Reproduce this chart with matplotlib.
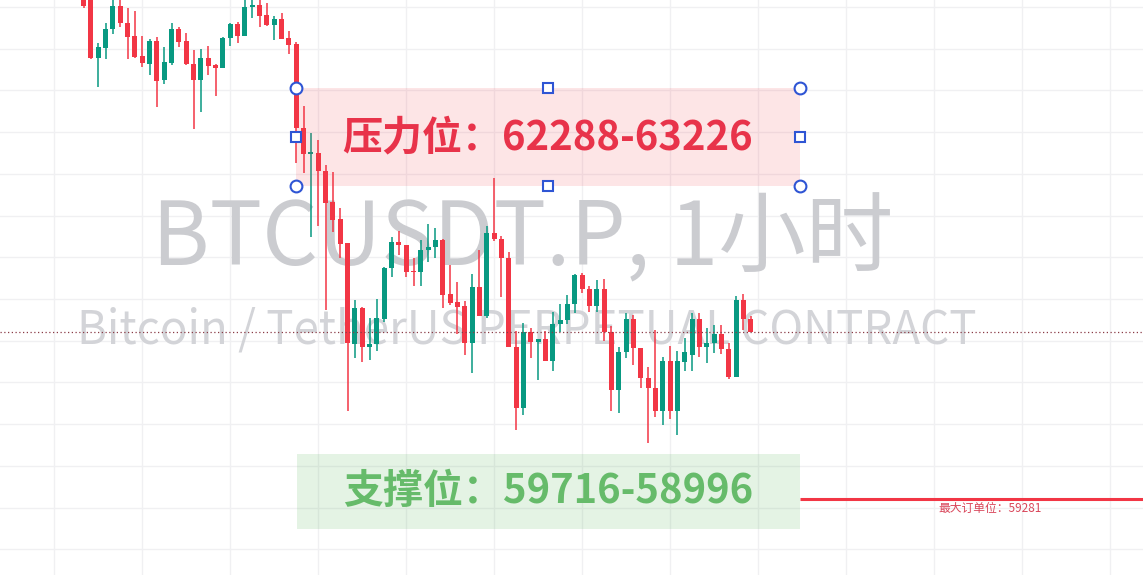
import numpy as np
import matplotlib
matplotlib.use("Agg")
import matplotlib.pyplot as plt
from matplotlib.patches import Rectangle

# hourly candles, BTCUSDT.P (open, high, low, close)
opens = [64115, 64096, 63511, 63607, 63789, 64009, 63846, 63722, 63530, 63453,
         63674, 63300, 63463, 63789, 63674, 63453, 63300, 63511, 63444, 63415,
         63703, 63837, 63722, 64000, 64019, 63923, 63827, 63885, 63703, 63645,
         62839, 62590, 62600, 62427, 62130, 61967, 61737, 60768, 61113, 60739,
         60768, 61007, 61497, 61746, 61717, 61468, 61459, 61670, 61698, 61765,
         61248, 61171, 61132, 60778, 61315, 61036, 61833, 61775, 61593, 60739,
         60154, 60883, 60787, 60816, 60605, 60960, 60998, 61152, 61430, 61296,
         61132, 61296, 60883, 60327, 60691, 61007, 60730, 60442, 60346, 60126,
         60605, 60126, 60595, 60662, 61007, 60739, 60778, 60864, 60720, 60452,
         61190, 61007]
highs = [64163, 64115, 63655, 63846, 64067, 64086, 63990, 63962, 63722, 63693,
         63712, 63616, 63846, 63808, 63751, 63588, 63597, 63626, 63453, 63712,
         63846, 63856, 64086, 64067, 64067, 64038, 63914, 63942, 63770, 63664,
         63050, 62792, 62724, 62485, 62418, 62072, 61737, 61190, 61123, 61017,
         61200, 61507, 61794, 61852, 61717, 61593, 61765, 61919, 61880, 61775,
         61526, 61363, 61181, 61439, 61670, 61900, 62360, 61804, 61650, 60893,
         60969, 60922, 60816, 60893, 61075, 61152, 61238, 61439, 61449, 61324,
         61382, 61391, 60941, 60739, 61065, 61046, 60730, 60547, 60902, 60643,
         60749, 60701, 60826, 61065, 61065, 60922, 60950, 60950, 60778, 61228,
         61248, 61036]
lows = [63990, 63501, 63233, 63501, 63741, 63808, 63501, 63511, 63424, 63348,
        63041, 63261, 63444, 63616, 63444, 62830, 62993, 63348, 63146, 63415,
        63626, 63655, 63722, 63894, 63808, 63818, 63683, 63693, 63549, 62504,
        62408, 61794, 61900, 61094, 61842, 61593, 60126, 60634, 60595, 60614,
        60701, 60979, 61411, 61622, 61411, 61324, 61324, 61555, 61593, 61113,
        61142, 60864, 60662, 60490, 61036, 61017, 61756, 61219, 60739, 59943,
        60087, 60634, 60423, 60605, 60509, 60883, 60960, 61065, 61257, 61075,
        61075, 60797, 60126, 60106, 60634, 60567, 60346, 59819, 60068, 59991,
        60049, 59895, 60509, 60509, 60643, 60586, 60682, 60672, 60432, 60452,
        60902, 60883]
closes = [64009, 63511, 63616, 63789, 64009, 63846, 63712, 63520, 63463, 63674,
          63290, 63472, 63789, 63664, 63453, 63300, 63511, 63434, 63415, 63703,
          63837, 63722, 64000, 64019, 63914, 63827, 63885, 63693, 63635, 62839,
          62590, 62609, 62427, 62120, 61957, 61727, 60778, 61113, 60739, 60768,
          61017, 61497, 61746, 61717, 61459, 61459, 61670, 61698, 61765, 61238,
          61161, 61123, 60778, 61315, 61036, 61833, 61775, 61593, 60739, 60154,
          60883, 60787, 60816, 60605, 60960, 60998, 61152, 61430, 61296, 61132,
          61296, 60883, 60327, 60691, 61007, 60730, 60442, 60346, 60126, 60605,
          60126, 60605, 60691, 61007, 60739, 60778, 60864, 60720, 60452, 61190,
          61007, 60883]

resist_lo, resist_hi = 62288, 63226
support_lo, support_hi = 58996, 59716
max_order = 59281
last_price = closes[-1]

title_main = "BTCUSDT.P, 1小时"
title_sub = "Bitcoin / TetherUS PERPETUAL CONTRACT"
resist_label = "压力位：62288-63226"
support_label = "支撑位：59716-58996"
max_order_label = "最大订单位：59281"

UP = "#089981"
DOWN = "#F23645"

fig = plt.figure(figsize=(11.43, 5.75), dpi=100)
ax = fig.add_axes([0, 0, 1, 1])
ax.set_xlim(-11.4, 144.5)
ax.set_ylim(58553, 64067)
for s in ax.spines.values():
    s.set_visible(False)
ax.set_xticks(np.arange(-4, 145, 12))
ax.set_yticks(np.arange(58800, 64100, 400))
ax.tick_params(length=0, labelbottom=False, labelleft=False)
ax.grid(True, color="#f0f0f2", lw=1)
ax.set_axisbelow(True)

cjk = ["Noto Sans CJK SC", "DejaVu Sans"]

# watermark
ax.text(0.457, 1 - 265 / 575, title_main, transform=ax.transAxes, ha="center",
        va="baseline", fontsize=63, color="#cbccd0", family=cjk, zorder=1)
ax.text(0.4605, 1 - 343 / 575, title_sub, transform=ax.transAxes, ha="center",
        va="baseline", fontsize=32.8, color="#d3d4d8", family=cjk, zorder=1)

# candles
x = np.arange(len(opens))
o = np.array(opens); h = np.array(highs); l = np.array(lows); c = np.array(closes)
col = np.where(c >= o, UP, DOWN)
body = np.maximum(np.abs(c - o), 10)
ax.vlines(x, l, h, colors=col, lw=1.1, zorder=2)
ax.bar(x, body, bottom=np.minimum(o, c), width=0.68, color=col, zorder=2)

# last price line
ax.axhline(last_price, color="#8a3b46", lw=0.9, ls=(0, (1, 2)), zorder=2)

# resistance zone
x0, x1 = 28.97, 97.7
ax.add_patch(Rectangle((x0, resist_lo), x1 - x0, resist_hi - resist_lo,
                       facecolor=DOWN, alpha=0.13, lw=0, zorder=3))
ym = (resist_lo + resist_hi) / 2
xm = (x0 + x1) / 2
ax.text(xm, ym - 15, resist_label, ha="center", va="center", fontsize=28.8,
        fontweight="bold", color="#e8334a", family=cjk, zorder=4)
ax.plot([x0, x1, x0, x1], [resist_hi, resist_hi, resist_lo, resist_lo], "o", ms=8.5,
        mfc="white", mec="#2f55d4", mew=1.5, zorder=5)
ax.plot([xm, x0, x1, xm], [resist_hi, ym, ym, resist_lo], "s", ms=7.5,
        mfc="white", mec="#2f55d4", mew=1.5, zorder=5)

# support zone
ax.add_patch(Rectangle((x0 + 0.1, support_lo), x1 - x0 - 0.1, support_hi - support_lo,
                       facecolor="#4caf50", alpha=0.15, lw=0, zorder=3))
ax.text(xm, (support_lo + support_hi) / 2, support_label, ha="center", va="center",
        fontsize=28.8, fontweight="bold", color="#66bb6a", family=cjk, zorder=4)

# max order line
ax.hlines(max_order, x1, 144.5, colors=DOWN, lw=2.2, zorder=3)
ax.text(123.7, max_order - 25, max_order_label, ha="center", va="top", fontsize=8.5,
        color="#d9465a", family=cjk, zorder=4)

fig.savefig("out.png", dpi=100)
